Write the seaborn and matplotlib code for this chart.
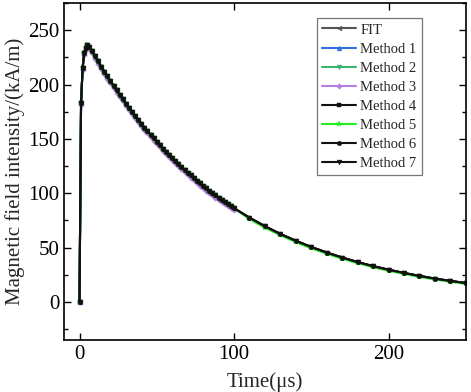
import matplotlib
matplotlib.use("Agg")
import matplotlib.pyplot as plt
import seaborn as sns
from matplotlib.ticker import MultipleLocator

sns.set_style("ticks")
plt.rcParams['font.family'] = ['Liberation Serif', 'DejaVu Serif']
plt.rcParams['mathtext.fontset'] = 'stix'

# ---- data ----
t_dense = [0, 1, 2, 3, 4, 5, 6, 8, 10, 12, 14, 16, 18, 20, 22, 24, 26, 28, 30,
           32, 34, 36, 38, 40, 42, 44, 46, 48, 50, 52, 54, 56, 58, 60, 62, 64,
           66, 68, 70, 72, 74, 76, 78, 80, 82, 84, 86, 88, 90, 92, 94, 96, 98, 100]
t_tail = [110, 120, 130, 140, 150, 160, 170, 180, 190, 200, 210, 220, 230, 240, 250]

h_dense = [0, 183, 215, 229, 234, 236, 235, 231.0, 226.1, 221.3, 216.6, 212.0,
           207.5, 203.1, 198.8, 194.6, 190.5, 186.5, 182.5, 178.6, 174.8, 171.1,
           167.5, 164.0, 160.5, 157.1, 153.8, 150.5, 147.3, 144.2, 141.1, 138.1,
           135.2, 132.3, 129.5, 126.8, 124.1, 121.5, 118.9, 116.4, 113.9, 111.5,
           109.1, 106.8, 104.5, 102.3, 100.1, 98.0, 95.9, 93.9, 91.9, 90.0, 88.1, 86.2]
h_tail = [77.5, 69.6, 62.5, 56.2, 50.5, 45.4, 40.8, 36.6, 32.9, 29.6, 26.6, 23.9,
          21.4, 19.3, 17.3]

h_m3_dense = [0, 181, 213, 227, 232, 234, 233, 229, 224, 219.3, 214.6, 210.0,
              205.5, 201.1, 196.8, 192.6, 188.5, 184.5, 180.5, 176.6, 172.8, 169.1,
              165.5, 162.0, 158.5, 155.1, 151.8, 148.5, 145.3, 142.2, 139.1, 136.1,
              133.2, 130.3, 127.5, 124.8, 122.1, 119.5, 116.9, 114.4, 111.9, 109.5,
              107.1, 104.8, 102.5, 100.3, 98.1, 96.0, 93.9, 91.9, 89.9, 88.0, 86.1, 84.2]
h_m5_tail = [76.2, 68.3, 61.3, 55.0, 49.3, 44.3, 39.7, 35.6, 31.9, 28.6, 25.7, 23.0,
             20.6, 18.5, 16.5]

t_full = t_dense + t_tail

series_names = ["FIT", "Method 1", "Method 2", "Method 3", "Method 4",
                "Method 5", "Method 6", "Method 7"]
series_t = [t_dense, t_dense, t_dense, t_dense, t_full, t_full, t_full, t_full]
series_h = [h_dense, h_dense, h_dense, h_m3_dense, h_dense + h_tail,
            h_dense + h_m5_tail, h_dense + h_tail, h_dense + h_tail]
colors = ["#555555", "#2f6fe0", "#3cb371", "#b57ee0", "#111111",
          "#22ee22", "#111111", "#111111"]
markers = ["<", "^", "v", "D", "s", "*", "o", "v"]
msizes = [3.5, 3.5, 3.5, 2.8, 3.0, 4.0, 3.2, 3.5]

fig = plt.figure(figsize=(4.71, 3.92), dpi=100)
ax = fig.add_axes([0.136, 0.133, 0.853, 0.859])

for name, tt, hh, c, m, ms in zip(series_names, series_t, series_h, colors, markers, msizes):
    sns.lineplot(x=tt, y=hh, ax=ax, color=c, marker=m, markersize=ms,
                 markeredgewidth=0.3, markeredgecolor=c, linewidth=1.5,
                 label=name, estimator=None, sort=False)

ax.set_xlim(-10, 250)
ax.set_ylim(-35, 275)
ax.xaxis.set_major_locator(MultipleLocator(100))
ax.yaxis.set_major_locator(MultipleLocator(50))
ax.yaxis.set_minor_locator(MultipleLocator(25))
ax.tick_params(which='both', direction='in', top=True, right=True,
               labelsize=15, width=1.0, colors='black')
ax.tick_params(which='major', length=5)
ax.tick_params(which='minor', length=3)
for s in ax.spines.values():
    s.set_linewidth(1.2)
    s.set_color('black')

ax.set_xlabel("Time(μs)", fontsize=15, labelpad=6)
ax.set_ylabel("Magnetic field intensity/(kA/m)", fontsize=15, labelpad=2)

leg = ax.legend(loc='upper right', bbox_to_anchor=(0.89, 0.955), fontsize=10.5,
                frameon=True, fancybox=False, edgecolor='#777777',
                handlelength=2.3, handletextpad=0.3, labelspacing=0.4,
                borderpad=0.35, borderaxespad=0.0)
leg.get_frame().set_linewidth(0.9)
leg.get_frame().set_alpha(1)

fig.savefig("out.png", dpi=100)
